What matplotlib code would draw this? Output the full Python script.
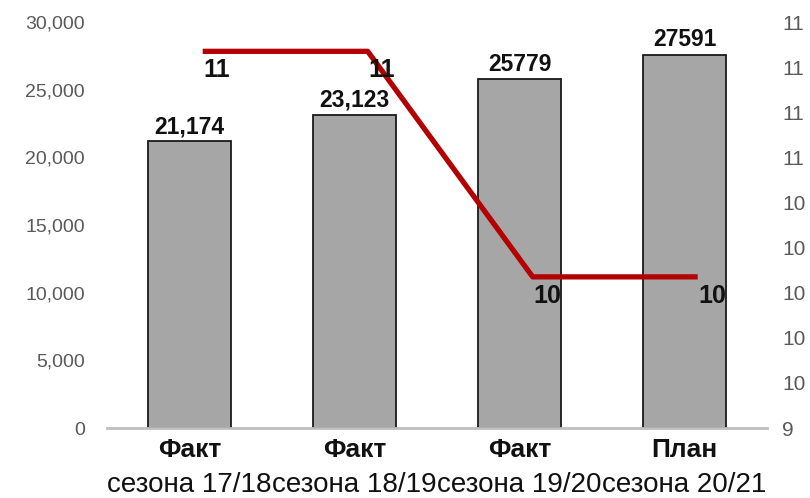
import numpy as np
import matplotlib.pyplot as plt
from matplotlib.ticker import FuncFormatter, FixedLocator

plt.rcParams['font.family'] = ['Liberation Sans', 'DejaVu Sans']

# данные
cat_top = ['Факт', 'Факт', 'Факт', 'План']
cat_bottom = ['сезона 17/18', 'сезона 18/19', 'сезона 19/20', 'сезона 20/21']
bar_values = [21174, 23123, 25779, 27591]
bar_labels = ['21,174', '23,123', '25779', '27591']
line_values = [11.07, 11.07, 10.07, 10.07]
line_labels = ['11', '11', '10', '10']
right_ticks = [9.4, 9.6, 9.8, 10.0, 10.2, 10.4, 10.6, 10.8, 11.0, 11.2]

fig = plt.figure(figsize=(8.1, 4.98), dpi=100)
ax = fig.add_axes([107 / 810, 1 - 428 / 498, 660 / 810, 406 / 498])
x = np.arange(len(bar_values))

ax.bar(x, bar_values, width=0.5, color='#A6A6A6', edgecolor='#1a1a1a', linewidth=1.3, zorder=2)
for xi, v, lab in zip(x, bar_values, bar_labels):
    ax.text(xi, v + 250, lab, ha='center', va='bottom', fontsize=16.5, fontweight='bold', color='#111111')

ax.set_xlim(-0.5, 3.5)
ax.set_ylim(0, 30000)
ax.set_yticks(np.arange(0, 30001, 5000))
ax.yaxis.set_major_formatter(FuncFormatter(lambda v, p: f'{int(v):,}'))
ax.tick_params(axis='y', length=0, labelsize=14, labelcolor='#595959', pad=16)
ax.set_xticks(x)
ax.set_xticklabels(cat_top, fontsize=19, fontweight='bold', color='#111111')
ax.tick_params(axis='x', length=0, pad=7)
for xi, lab in zip(x, cat_bottom):
    ax.text(xi, -0.14, lab, transform=ax.get_xaxis_transform(), ha='center', va='center',
            fontsize=20, color='#111111')

for s in ['top', 'left', 'right']:
    ax.spines[s].set_visible(False)
ax.spines['bottom'].set_color('#BFBFBF')
ax.spines['bottom'].set_linewidth(2)

ax2 = ax.twinx()
xl = x + 0.08
ax2.plot(xl, line_values, color='#B30000', linewidth=3.8, solid_capstyle='butt', zorder=3)
ax2.set_ylim(9.4, 11.2)
ax2.yaxis.set_major_locator(FixedLocator(right_ticks))
ax2.yaxis.set_major_formatter(FuncFormatter(lambda v, p: '%d' % int(round(v))))
ax2.tick_params(axis='y', length=0, labelsize=15, labelcolor='#595959', pad=11)
for s in ['top', 'left', 'right', 'bottom']:
    ax2.spines[s].set_visible(False)
for xi, v, lab in zip(xl, line_values, line_labels):
    ax2.text(xi + 0.005, v - 0.03, lab, ha='left', va='top', fontsize=18, fontweight='bold', color='#111111')

fig.savefig('out.png', dpi=100)
